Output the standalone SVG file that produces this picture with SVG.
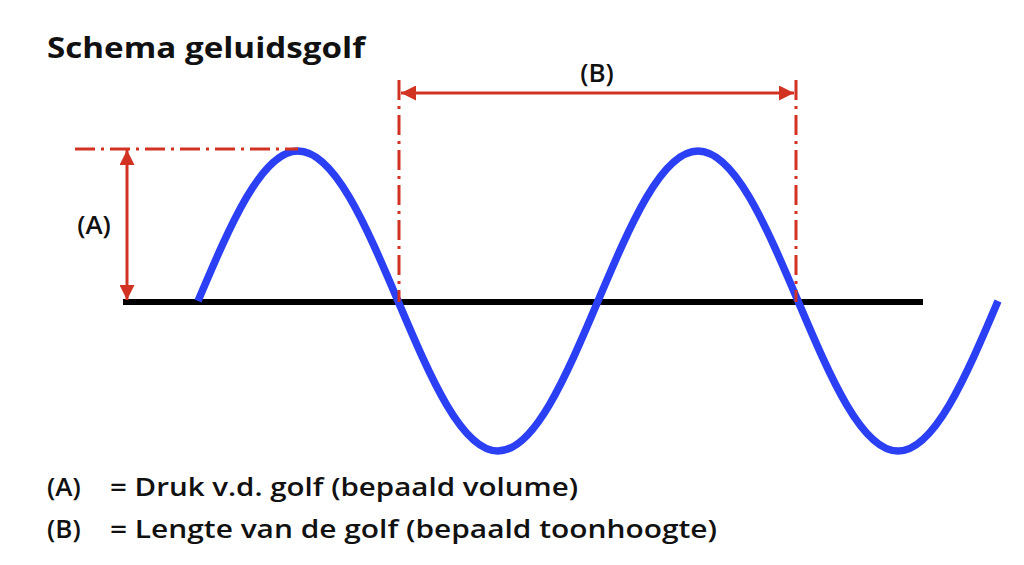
<svg xmlns="http://www.w3.org/2000/svg" width="1024" height="565" viewBox="0 0 1024 565">
<style>
.t{font-family:"Open Sans","Noto Sans","Liberation Sans",sans-serif;fill:#111}
.title{font-size:28px;font-weight:700}
.lbl{font-size:26px;font-weight:600}
.dim{stroke:#D13222;stroke-width:3;fill:none}
.dd{stroke:#D13222;stroke-width:3;fill:none;stroke-dasharray:20 6 3 6}
</style>
<defs>
<marker id="ah" viewBox="0 0 10 10" refX="10" refY="5" markerWidth="5" markerHeight="5" markerUnits="strokeWidth" orient="auto-start-reverse">
<path d="M0,0 L10,5 L0,10 Z" fill="#D13222"/>
</marker>
</defs>
<rect width="1024" height="565" fill="#fff"/>
<g id="title"><text class="t title" x="47" y="58" textLength="318" lengthAdjust="spacingAndGlyphs">Schema geluidsgolf</text></g>
<g id="axis"><line x1="123" y1="302" x2="923" y2="302" stroke="#000" stroke-width="6"/></g>
<g id="wave"><path d="M198,301 C230.61,224.16 261.81,151 298,151 C334.19,151 365.39,224.16 398,301 C430.61,377.84 461.81,451 498,451 C534.19,451 565.39,377.84 598,301 C630.61,224.16 661.81,151 698,151 C734.19,151 765.39,224.16 798,301 C830.61,377.84 861.81,451 898,451 C934.19,451 965.39,377.84 998,301" fill="none" stroke="#2B3FF5" stroke-width="7.5"/></g>
<g id="connectors">
<line class="dd" x1="75" y1="149" x2="298" y2="149"/>
<line class="dim" x1="127" y1="150" x2="127" y2="300" marker-start="url(#ah)" marker-end="url(#ah)"/>
<line class="dd" x1="399" y1="80" x2="399" y2="302"/>
<line class="dd" x1="796" y1="80" x2="796" y2="302"/>
<line class="dim" x1="401" y1="93" x2="794" y2="93" marker-start="url(#ah)" marker-end="url(#ah)"/>
</g>
<g id="labelA"><text class="t lbl" x="94" y="234" text-anchor="middle">(A)</text></g>
<g id="labelB"><text class="t lbl" x="597" y="82" text-anchor="middle">(B)</text></g>
<g id="legend">
<text class="t lbl" x="47" y="496">(A)</text>
<text class="t lbl" x="110" y="496" textLength="468" lengthAdjust="spacingAndGlyphs">= Druk v.d. golf (bepaald volume)</text>
<text class="t lbl" x="47" y="538">(B)</text>
<text class="t lbl" x="110" y="538" textLength="607" lengthAdjust="spacingAndGlyphs">= Lengte van de golf (bepaald toonhoogte)</text>
</g>
</svg>
